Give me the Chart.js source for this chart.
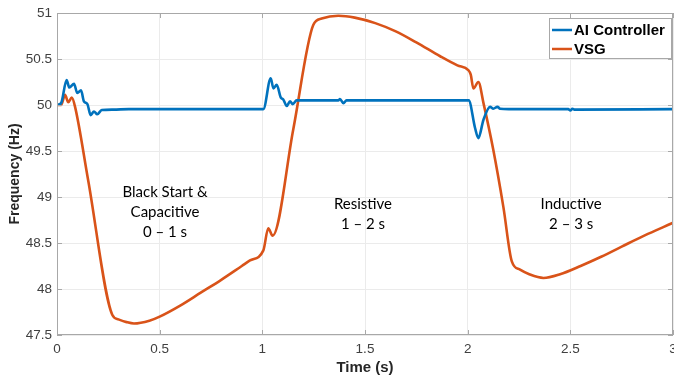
<!DOCTYPE html>
<html>
<head>
<meta charset="utf-8">
<script src="https://cdn.jsdelivr.net/npm/chart.js@4/dist/chart.umd.min.js"></script>
<style>
  html, body { margin: 0; padding: 0; background: #ffffff; }
  #wrap { width: 674px; height: 381px; position: relative; }
</style>
</head>
<body>
<div id="wrap"><canvas id="c" width="674" height="381"></canvas></div>
<script>
// ---- Data ----
const seriesNames = ["AI Controller", "VSG"];
const seriesColors = ["#0072BD", "#D95319"];

const aiTime = [0, 0.02, 0.047, 0.06, 0.083, 0.099, 0.117, 0.131, 0.148, 0.164, 0.18, 0.196, 0.218, 0.274, 0.35,
  1.0, 1.005, 1.041, 1.054, 1.07, 1.09, 1.102, 1.119, 1.135, 1.148, 1.167, 1.37, 1.378, 1.395, 1.41,
  2.005, 2.036, 2.052, 2.077, 2.109, 2.125, 2.145, 2.158, 2.2, 2.49, 2.5, 2.51, 2.52, 3.0];
const aiFreq = [50.0, 50.02, 50.27, 50.19, 50.23, 50.13, 50.16, 50.04, 50.01, 49.89, 49.93, 49.90, 49.945, 49.95, 49.955,
  49.955, 49.955, 50.29, 50.18, 50.22, 50.08, 50.06, 49.99, 50.04, 50.01, 50.05, 50.05, 50.065, 50.02, 50.05,
  50.05, 49.75, 49.64, 49.84, 49.98, 49.96, 49.98, 49.96, 49.955, 49.955, 49.94, 49.96, 49.95, 49.955];

const vsgTime = [0, 0.02, 0.039, 0.055, 0.072, 0.088, 0.152, 0.269, 0.299, 0.339, 0.375, 0.45, 0.5, 0.6, 0.7, 0.8, 0.9, 0.94,
  1.005, 1.029, 1.05, 1.151, 1.248, 1.289, 1.37, 1.45, 1.55, 1.65, 1.75, 1.866, 1.95, 2.003,
  2.015, 2.028, 2.052, 2.077, 2.125, 2.174, 2.215, 2.255, 2.3, 2.369, 2.45, 2.55, 2.65, 2.75, 2.85, 2.95, 3.0];
const vsgFreq = [50.0, 50.0, 50.11, 50.03, 50.08, 49.98, 49.18, 47.72, 47.67, 47.64, 47.625, 47.655, 47.70, 47.82, 47.96, 48.10, 48.25, 48.31,
  48.42, 48.66, 48.58, 49.74, 50.87, 50.94, 50.97, 50.95, 50.89, 50.80, 50.68, 50.53, 50.43, 50.38,
  50.33, 50.18, 50.25, 50.02, 49.51, 48.89, 48.30, 48.21, 48.16, 48.12, 48.16, 48.25, 48.35, 48.46, 48.57, 48.67, 48.72];

const xTicks = [0, 0.5, 1, 1.5, 2, 2.5, 3];
const yTicks = [47.5, 48, 48.5, 49, 49.5, 50, 50.5, 51];
const xTitle = "Time (s)";
const yTitle = "Frequency (Hz)";

const annotationLines = [["Black Start &", "Capacitive", "0 \u2013 1 s"], ["Resistive", "1 \u2013 2 s"], ["Inductive", "2 \u2013 3 s"]];
const annotationX = [0.526, 1.49, 2.504];
const annotationY = [49.058, 48.92, 48.92];

// ---- Chart ----
const toPoints = (xs, ys) => xs.map((x, i) => ({ x: x, y: ys[i] }));
const axisColor = "#a8a8a8";
const tickColor = "#404040";

const boxPlugin = {
  id: "boxAndTicks",
  afterDraw(chart) {
    const { ctx, chartArea: a, scales } = chart;
    ctx.save();
    ctx.strokeStyle = axisColor;
    ctx.lineWidth = 1;
    ctx.strokeRect(a.left + 0.5, a.top + 0.5, a.right - a.left - 1, a.bottom - a.top - 1);
    const tl = 5;
    ctx.beginPath();
    xTicks.forEach(v => {
      const p = Math.round(scales.x.getPixelForValue(v)) + 0.5;
      ctx.moveTo(p, a.bottom); ctx.lineTo(p, a.bottom - tl);
      ctx.moveTo(p, a.top); ctx.lineTo(p, a.top + tl);
    });
    yTicks.forEach(v => {
      const p = Math.round(scales.y.getPixelForValue(v)) + 0.5;
      ctx.moveTo(a.left, p); ctx.lineTo(a.left + tl, p);
      ctx.moveTo(a.right, p); ctx.lineTo(a.right - tl, p);
    });
    ctx.stroke();

    // annotations
    ctx.fillStyle = "#000000";
    ctx.font = "15px Lato, 'Open Sans', sans-serif";
    ctx.textAlign = "center";
    ctx.textBaseline = "middle";
    annotationLines.forEach((lines, i) => {
      const cx = scales.x.getPixelForValue(annotationX[i]);
      const cy = scales.y.getPixelForValue(annotationY[i]);
      lines.forEach((t, j) => ctx.fillText(t, cx, cy + j * 20));
    });

    // legend (inside plot, top-right)
    const lw = 123, lh = 41;
    const lx = a.right - 1 - lw, ly = a.top + 5;
    ctx.fillStyle = "#ffffff";
    ctx.fillRect(lx, ly, lw, lh);
    ctx.strokeStyle = "#a8a8a8";
    ctx.lineWidth = 1;
    ctx.strokeRect(lx + 0.5, ly + 0.5, lw - 1, lh - 1);
    ctx.font = "bold 15px 'Liberation Sans', Arial, sans-serif";
    ctx.textAlign = "left";
    chart.data.datasets.forEach((ds, i) => {
      const yy = ly + 12 + i * 19;
      ctx.strokeStyle = ds.borderColor;
      ctx.lineWidth = 2.5;
      ctx.beginPath(); ctx.moveTo(lx + 3, yy); ctx.lineTo(lx + 23, yy); ctx.stroke();
      ctx.fillStyle = "#000000";
      ctx.fillText(ds.label, lx + 25, yy + 1);
    });
    ctx.restore();
  }
};

new Chart(document.getElementById("c"), {
  type: "line",
  data: {
    datasets: [
      { label: seriesNames[0], data: toPoints(aiTime, aiFreq), borderColor: seriesColors[0], backgroundColor: seriesColors[0] },
      { label: seriesNames[1], data: toPoints(vsgTime, vsgFreq), borderColor: seriesColors[1], backgroundColor: seriesColors[1] }
    ]
  },
  options: {
    responsive: false,
    animation: false,
    events: [],
    layout: { padding: { left: 0, right: 1, top: 13, bottom: 0 } },
    elements: {
      point: { radius: 0 },
      line: { borderWidth: 2.6, cubicInterpolationMode: "monotone", borderCapStyle: "round", borderJoinStyle: "round" }
    },
    plugins: { legend: { display: false }, tooltip: { enabled: false } },
    scales: {
      x: {
        type: "linear", min: 0, max: 3,
        afterBuildTicks: s => { s.ticks = xTicks.map(v => ({ value: v })); },
        afterFit: s => { s.height = 46; s.paddingLeft = 0; s.paddingRight = 0; },
        ticks: { autoSkip: false, maxRotation: 0, padding: 6, color: tickColor, font: { size: 13.5, family: "'Liberation Sans', Arial, sans-serif" },
                 callback: v => String(v) },
        grid: { color: "#ebebeb", drawTicks: false },
        border: { display: false },
        title: { display: true, text: xTitle, color: "#262626", padding: { top: 0, bottom: 4 },
                 font: { size: 15, weight: "bold", family: "'Liberation Sans', Arial, sans-serif" } }
      },
      y: {
        type: "linear", min: 47.5, max: 51,
        afterBuildTicks: s => { s.ticks = yTicks.map(v => ({ value: v })); },
        afterFit: s => { s.width = 57; s.paddingTop = 0; s.paddingBottom = 0; },
        ticks: { autoSkip: false, padding: 5, color: tickColor, font: { size: 13.5, family: "'Liberation Sans', Arial, sans-serif" },
                 callback: v => String(v) },
        grid: { color: "#ebebeb", drawTicks: false },
        border: { display: false },
        title: { display: true, text: yTitle, color: "#262626", padding: { top: 7, bottom: 0 },
                 font: { size: 14, weight: "bold", family: "'Liberation Sans', Arial, sans-serif" } }
      }
    }
  },
  plugins: [boxPlugin]
});
</script>
</body>
</html>
